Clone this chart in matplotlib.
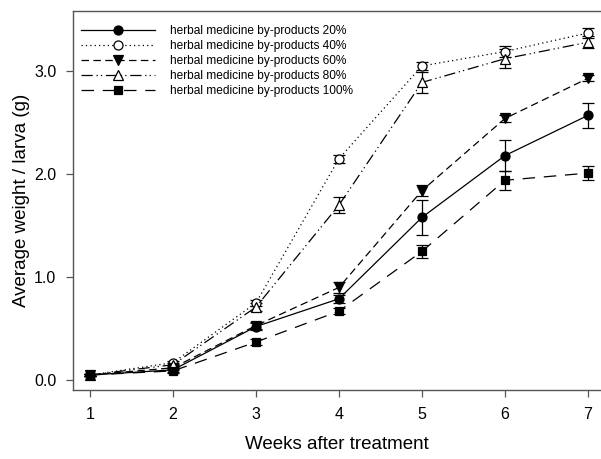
import matplotlib.pyplot as plt
from matplotlib.lines import Line2D

plt.rcParams['font.family'] = ['Liberation Sans', 'DejaVu Sans']

weeks = [1, 2, 3, 4, 5, 6, 7]

labels = ["herbal medicine by-products 20%",
          "herbal medicine by-products 40%",
          "herbal medicine by-products 60%",
          "herbal medicine by-products 80%",
          "herbal medicine by-products 100%"]

w20 = [0.05, 0.10, 0.52, 0.79, 1.58, 2.18, 2.57]
w40 = [0.05, 0.17, 0.75, 2.15, 3.05, 3.19, 3.37]
w60 = [0.05, 0.12, 0.53, 0.90, 1.84, 2.54, 2.93]
w80 = [0.05, 0.15, 0.71, 1.70, 2.89, 3.12, 3.28]
w100 = [0.05, 0.09, 0.37, 0.67, 1.25, 1.94, 2.01]

e20 = [0.01, 0.02, 0.03, 0.04, 0.17, 0.15, 0.12]
e40 = [0.01, 0.02, 0.03, 0.04, 0.04, 0.05, 0.05]
e60 = [0.01, 0.02, 0.03, 0.05, 0.05, 0.03, 0.03]
e80 = [0.01, 0.02, 0.04, 0.08, 0.10, 0.09, 0.06]
e100 = [0.01, 0.02, 0.03, 0.03, 0.06, 0.09, 0.07]

series = [
    (w20, e20, 'o', 'black', '-', 6.5),
    (w40, e40, 'o', 'white', (0, (1, 2.5)), 6.5),
    (w60, e60, 'v', 'black', (0, (6, 3.5)), 6.5),
    (w80, e80, '^', 'white', (0, (9, 3, 1, 2.5, 1, 3)), 6.5),
    (w100, e100, 's', 'black', (0, (10, 7)), 6),
]

fig = plt.figure(figsize=(6.01, 4.59), dpi=100)
ax = fig.add_axes([0.1215, 0.150, 0.8785, 0.826])

handles = []
for (vals, errs, mk, fc, ls, ms), lab in zip(series, labels):
    ax.errorbar(weeks, vals, yerr=errs, marker=mk, markerfacecolor=fc,
                linestyle=ls, color='black', lw=0.9, capsize=4.5,
                elinewidth=0.9, capthick=0.9, markersize=ms,
                markeredgecolor='black', markeredgewidth=0.9)
    handles.append(Line2D([], [], marker=mk, markerfacecolor=fc, linestyle=ls,
                          color='black', lw=0.9, markersize=ms,
                          markeredgecolor='black', markeredgewidth=0.9,
                          label=lab))

ax.set_xlim(0.795, 7.157)
ax.set_ylim(-0.097, 3.583)
ax.set_xticks(weeks)
ax.set_yticks([0.0, 1.0, 2.0, 3.0])
ax.set_yticklabels(['0.0', '1.0', '2.0', '3.0'])

for s in ['left', 'bottom', 'top']:
    ax.spines[s].set_color('#555555')
    ax.spines[s].set_linewidth(1.0)
ax.spines['right'].set_visible(False)
ax.tick_params(direction='out', length=5, width=0.9, color='#555555',
               labelsize=11.5, pad=7)

ax.set_xlabel('Weeks after treatment', fontsize=13.5, labelpad=10)
ax.set_ylabel('Average weight / larva (g)', fontsize=13.5, labelpad=3)

ax.legend(handles=handles, loc='upper left', frameon=False, fontsize=8.6,
          handlelength=6.2, handletextpad=1.2, labelspacing=0.25,
          borderaxespad=0.3, bbox_to_anchor=(0.0, 0.985))

fig.savefig('out.png', dpi=100)
